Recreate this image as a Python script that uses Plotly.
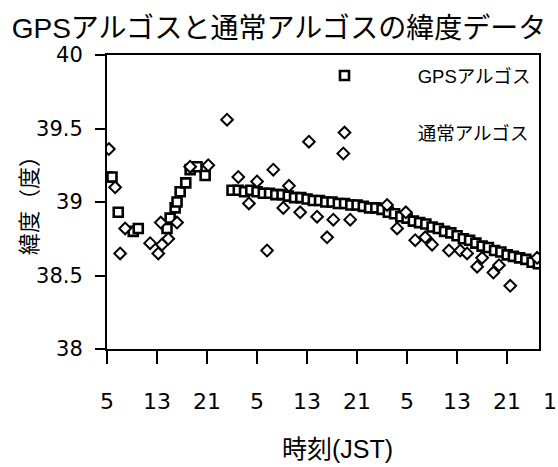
import plotly.graph_objects as go

# hours since first 05:00 JST
gps_h = [0, 0.8, 1.8, 4.2, 5.0, 9.6, 10.1, 10.9, 11.2, 11.7, 12.6, 13.3, 14.4, 15.7,
         20, 21, 22, 23, 24, 25, 26, 27, 28, 29, 30, 31, 32, 33, 34, 35, 36, 37, 38, 39,
         40, 41, 42, 43, 44, 45, 46, 47, 48, 49, 50, 51, 52, 53, 54, 55, 56, 57, 58, 59,
         60, 61, 62, 63, 64, 65, 66, 67, 68, 69]
gps_lat = [39.17, 39.17, 38.93, 38.80, 38.82, 38.82, 38.89, 38.96, 39.00, 39.07, 39.13, 39.22, 39.24, 39.18,
           39.08, 39.08, 39.07, 39.08, 39.07, 39.06, 39.06, 39.05, 39.05, 39.04, 39.03, 39.03, 39.02, 39.01,
           39.01, 39.00, 39.00, 38.99, 38.99, 38.98, 38.98, 38.97, 38.96, 38.96, 38.95, 38.93, 38.92, 38.90,
           38.89, 38.87, 38.86, 38.85, 38.83, 38.82, 38.80, 38.79, 38.77, 38.75, 38.74, 38.72, 38.70, 38.69,
           38.67, 38.66, 38.64, 38.63, 38.62, 38.61, 38.59, 38.58]

arg_h = [0.3, 1.3, 2.1, 2.9, 6.9, 8.2, 8.8, 8.6, 9.8, 11.2, 13.3, 16.2, 19.2, 21.0, 22.7, 24.0,
         25.6, 26.6, 28.2, 29.1, 30.9, 32.3, 33.6, 35.2, 36.2, 37.8, 38.9, 44.8, 46.4, 47.8,
         49.3, 50.9, 52.0, 54.7, 56.5, 57.6, 59.2, 60.0, 61.8, 62.7, 64.5, 68.8]
arg_lat = [39.36, 39.10, 38.65, 38.82, 38.72, 38.65, 38.71, 38.86, 38.75, 38.86, 39.24, 39.25, 39.56, 39.17,
           38.99, 39.14, 38.67, 39.22, 38.96, 39.11, 38.93, 39.41, 38.90, 38.76, 38.88, 39.33, 38.88,
           38.98, 38.82, 38.93, 38.74, 38.76, 38.71, 38.67, 38.67, 38.65, 38.56, 38.62, 38.52, 38.57,
           38.43, 38.62]

tick_pos = [0, 8, 16, 24, 32, 40, 48, 56, 64]
tick_txt = ["5", "13", "21", "5", "13", "21", "5", "13", "21"]
y_ticks = [38, 38.5, 39, 39.5, 40]
y_txt = ["38", "38.5", "39", "39.5", "40"]

FONT = "Liberation Sans, Arial, Noto Sans CJK JP"
NUMFONT = "DejaVu Sans"
PAD = "\u00a0" * 5

fig = go.Figure()
fig.add_trace(go.Scatter(
    x=gps_h, y=gps_lat, mode="markers", name=PAD + "GPSアルゴス", legendgroup="a",
    marker=dict(symbol="square", size=9, color="white", line=dict(color="black", width=2.6))))
fig.add_trace(go.Scatter(
    x=arg_h, y=arg_lat, mode="markers", name=PAD + "通常アルゴス", legendgroup="b",
    marker=dict(symbol="diamond", size=9, color="white", line=dict(color="black", width=2))))

fig.update_layout(
    width=558, height=467,
    margin=dict(l=107, r=19, t=55, b=118),
    paper_bgcolor="white", plot_bgcolor="white",
    font=dict(family=FONT, color="black"),
    title=dict(text="GPSアルゴスと通常アルゴスの緯度データ", x=0.5, xref="container", xanchor="center",
               y=1 - 28 / 467, yref="container", yanchor="middle",
               font=dict(size=28, family=FONT, color="black")),
    showlegend=True,
    legend=dict(x=(297 - 107) / 432, y=1 - (57 - 55) / 294, xanchor="left", yanchor="top",
                bgcolor="rgba(0,0,0,0)", font=dict(size=18.5, family=FONT, color="black"),
                itemwidth=85, traceorder="grouped", tracegroupgap=30),
    xaxis=dict(range=[0, 69.1], tickmode="array", tickvals=tick_pos, ticktext=tick_txt,
               ticks="outside", ticklen=13, tickwidth=2, tickcolor="black",
               showline=True, linecolor="black", linewidth=2, mirror=True,
               showgrid=False, zeroline=False, ticklabelstandoff=19,
               tickfont=dict(size=22, family=NUMFONT, color="black")),
    yaxis=dict(range=[38, 40], tickmode="array", tickvals=y_ticks, ticktext=y_txt,
               ticks="outside", ticklen=10, tickwidth=2, tickcolor="black",
               showline=True, linecolor="black", linewidth=2, mirror=True,
               showgrid=False, zeroline=False, ticklabelstandoff=8,
               tickfont=dict(size=21, family=NUMFONT, color="black")),
)

fig.add_annotation(text="緯度（度）", xref="paper", yref="paper", x=(29 - 107) / 432, y=1 - (200 - 55) / 294,
                   xanchor="center", yanchor="middle", textangle=-90, showarrow=False,
                   font=dict(size=22, family=FONT, color="black"))
fig.add_annotation(text="時刻(JST)", xref="paper", yref="paper", x=(337 - 107) / 432, y=-(449 - 349) / 294,
                   xanchor="center", yanchor="middle", showarrow=False,
                   font=dict(size=25, family=FONT, color="black"))
fig.add_annotation(text="1", xref="paper", yref="paper", x=(550 - 107) / 432, y=-(401 - 349) / 294,
                   xanchor="center", yanchor="middle", showarrow=False,
                   font=dict(size=22, family=NUMFONT, color="black"))

fig.write_html("out.html")
